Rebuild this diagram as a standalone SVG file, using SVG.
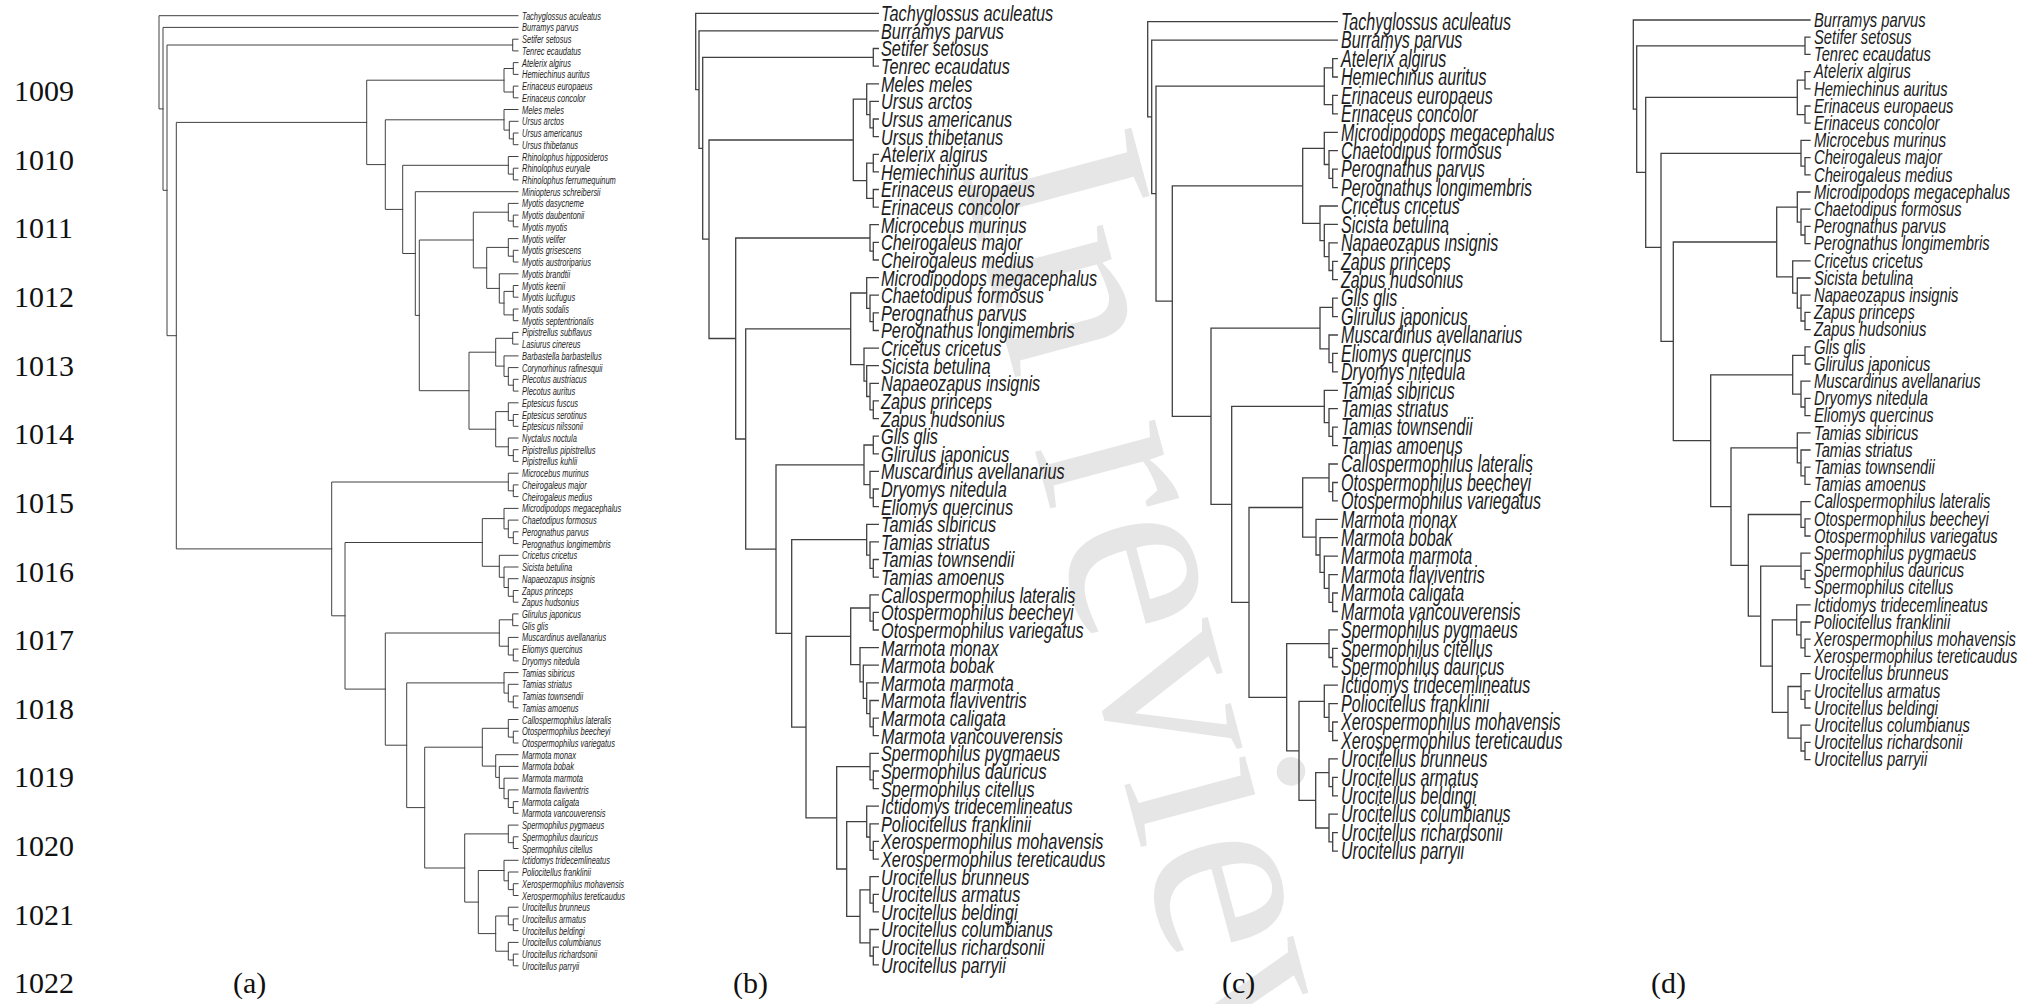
<svg xmlns="http://www.w3.org/2000/svg" width="2042" height="1004" viewBox="0 0 2042 1004">
<style>
.br{fill:none;stroke:#404040;stroke-width:1.3;stroke-linecap:square}
#ta .br{stroke-width:1}
.lab text{font-family:"Liberation Sans",Arial,sans-serif;font-style:italic;fill:#1c1c1c;dominant-baseline:central}
#la text{font-size:11px}
#lb text{font-size:22px}
#lc text{font-size:24px}
#ld text{font-size:20.5px}
.num{font-family:"Liberation Serif","Times New Roman",serif;font-size:30px;fill:#111}
.wm{font-family:"Liberation Serif","Times New Roman",serif;font-size:270px;fill:#e6e6e6}
</style>
<rect width="2042" height="1004" fill="#fff"/>
<text class="wm" transform="translate(958,164) rotate(75)">In review</text>
<g id="rownums" class="num">
<text x="14" y="101.2">1009</text><text x="14" y="169.8">1010</text><text x="14" y="238.4">1011</text><text x="14" y="307.1">1012</text><text x="14" y="375.7">1013</text><text x="14" y="444.3">1014</text><text x="14" y="512.9">1015</text><text x="14" y="581.5">1016</text><text x="14" y="650.2">1017</text><text x="14" y="718.8">1018</text><text x="14" y="787.4">1019</text><text x="14" y="856">1020</text><text x="14" y="924.6">1021</text><text x="14" y="993.3">1022</text>
</g>
<g id="panel-labels" class="num">
<text x="233" y="993.3">(a)</text><text x="733" y="993.3">(b)</text><text x="1222" y="993.3">(c)</text><text x="1651" y="993.3">(d)</text>
</g>
<g id="ta">
<g id="ta-connectors" class="br"><path d="M518,39.2H512.7V50.9H518M518,62.6H513.3V74.4H518M518,86.1H513.3V97.8H518M513.3,68.5H504V92H513.3M518,133H513.3V144.7H518M518,121.3H509.3V138.9H513.3M518,109.5H504V130.1H509.3M518,168.2H513.3V179.9H518M518,156.5H508.3V174.1H513.3M518,215.1H513.3V226.8H518M518,203.4H508.3V221H513.3M518,250.3H513.3V262H518M518,238.6H508.3V256.2H513.3M518,285.5H513.3V297.2H518M518,309H513.3V320.7H518M513.3,291.4H504V314.9H513.3M518,273.8H499.3V303.1H504M508.3,247.4H486.7V288.4H499.3M508.3,212.2H473.3V267.9H486.7M518,332.4H512.7V344.1H518M518,379.3H513.3V391.1H518M518,367.6H508.3V385.2H513.3M518,355.9H504V376.4H508.3M512.7,338.3H495.7V366.1H504M518,414.5H513.3V426.3H518M518,402.8H508.3V420.4H513.3M518,449.7H513.3V461.4H518M518,438H508.3V455.6H513.3M508.3,411.6H495.7V446.8H508.3M495.7,352.2H469V429.2H495.7M473.3,240H419.3V390.7H469M518,191.7H415.3V315.4H419.3M508.3,165.3H402.7V253.5H415.3M504,119.8H385.3V209.4H402.7M504,80.2H366.7V164.6H385.3M518,484.9H513.3V496.6H518M518,473.2H508.3V490.8H513.3M518,531.8H513.3V543.6H518M518,520.1H508.3V537.7H513.3M518,508.4H504V528.9H508.3M518,590.5H513.3V602.2H518M518,578.7H508.3V596.3H513.3M518,567H504V587.5H508.3M518,555.3H499.3V577.3H504M504,518.6H482.3V566.3H499.3M518,613.9H512.7V625.7H518M518,649.1H513.3V660.9H518M518,637.4H508.3V655H513.3M512.7,619.8H499.3V646.2H508.3M518,696H513.3V707.8H518M518,684.3H508.3V701.9H513.3M518,672.6H504V693.1H508.3M518,731.2H513.3V743H518M518,719.5H508.3V737.1H513.3M518,801.6H513.3V813.3H518M518,789.9H508.3V807.5H513.3M518,778.2H504V798.7H508.3M518,766.4H499.3V788.4H504M518,754.7H495.7V777.4H499.3M508.3,728.3H482.3V766.1H495.7M518,836.8H513.3V848.5H518M518,825.1H508.3V842.7H513.3M518,883.7H513.3V895.5H518M518,872H508.3V889.6H513.3M518,860.3H504V880.8H508.3M518,918.9H513.3V930.6H518M518,907.2H508.3V924.8H513.3M518,954.1H513.3V965.8H518M518,942.4H508.3V960H513.3M508.3,916H495.7V951.2H508.3M504,870.5H478.3V933.6H495.7M508.3,833.9H464.7V902.1H478.3M482.3,747.2H424.7V868H464.7M504,682.9H406.7V807.6H424.7M499.3,633H385.3V745.2H406.7M482.3,542.5H345V689.1H385.3M508.3,482H331.7V615.8H345M366.7,122.4H176.3V548.9H331.7M512.7,45H167V335.7H176.3M518,27.4H163V190.3H167M518,15.7H159V108.9H163"/></g>
<g id="la" class="lab" transform="translate(522,0) scale(0.68,1)">
<g id="a01"><text y="15.7">Tachyglossus aculeatus</text></g>
<g id="a02"><text y="27.4">Burramys parvus</text></g>
<g id="a03"><text y="39.2">Setifer setosus</text></g>
<g id="a04"><text y="50.9">Tenrec ecaudatus</text></g>
<g id="a05"><text y="62.6">Atelerix algirus</text></g>
<g id="a06"><text y="74.4">Hemiechinus auritus</text></g>
<g id="a07"><text y="86.1">Erinaceus europaeus</text></g>
<g id="a08"><text y="97.8">Erinaceus concolor</text></g>
<g id="a09"><text y="109.5">Meles meles</text></g>
<g id="a10"><text y="121.3">Ursus arctos</text></g>
<g id="a11"><text y="133">Ursus americanus</text></g>
<g id="a12"><text y="144.7">Ursus thibetanus</text></g>
<g id="a13"><text y="156.5">Rhinolophus hipposideros</text></g>
<g id="a14"><text y="168.2">Rhinolophus euryale</text></g>
<g id="a15"><text y="179.9">Rhinolophus ferrumequinum</text></g>
<g id="a16"><text y="191.7">Miniopterus schreibersii</text></g>
<g id="a17"><text y="203.4">Myotis dasycneme</text></g>
<g id="a18"><text y="215.1">Myotis daubentonii</text></g>
<g id="a19"><text y="226.8">Myotis myotis</text></g>
<g id="a20"><text y="238.6">Myotis velifer</text></g>
<g id="a21"><text y="250.3">Myotis grisescens</text></g>
<g id="a22"><text y="262">Myotis austroriparius</text></g>
<g id="a23"><text y="273.8">Myotis brandtii</text></g>
<g id="a24"><text y="285.5">Myotis keenii</text></g>
<g id="a25"><text y="297.2">Myotis lucifugus</text></g>
<g id="a26"><text y="309">Myotis sodalis</text></g>
<g id="a27"><text y="320.7">Myotis septentrionalis</text></g>
<g id="a28"><text y="332.4">Pipistrellus subflavus</text></g>
<g id="a29"><text y="344.1">Lasiurus cinereus</text></g>
<g id="a30"><text y="355.9">Barbastella barbastellus</text></g>
<g id="a31"><text y="367.6">Corynorhinus rafinesquii</text></g>
<g id="a32"><text y="379.3">Plecotus austriacus</text></g>
<g id="a33"><text y="391.1">Plecotus auritus</text></g>
<g id="a34"><text y="402.8">Eptesicus fuscus</text></g>
<g id="a35"><text y="414.5">Eptesicus serotinus</text></g>
<g id="a36"><text y="426.3">Eptesicus nilssonii</text></g>
<g id="a37"><text y="438">Nyctalus noctula</text></g>
<g id="a38"><text y="449.7">Pipistrellus pipistrellus</text></g>
<g id="a39"><text y="461.4">Pipistrellus kuhlii</text></g>
<g id="a40"><text y="473.2">Microcebus murinus</text></g>
<g id="a41"><text y="484.9">Cheirogaleus major</text></g>
<g id="a42"><text y="496.6">Cheirogaleus medius</text></g>
<g id="a43"><text y="508.4">Microdipodops megacephalus</text></g>
<g id="a44"><text y="520.1">Chaetodipus formosus</text></g>
<g id="a45"><text y="531.8">Perognathus parvus</text></g>
<g id="a46"><text y="543.6">Perognathus longimembris</text></g>
<g id="a47"><text y="555.3">Cricetus cricetus</text></g>
<g id="a48"><text y="567">Sicista betulina</text></g>
<g id="a49"><text y="578.7">Napaeozapus insignis</text></g>
<g id="a50"><text y="590.5">Zapus princeps</text></g>
<g id="a51"><text y="602.2">Zapus hudsonius</text></g>
<g id="a52"><text y="613.9">Glirulus japonicus</text></g>
<g id="a53"><text y="625.7">Glis glis</text></g>
<g id="a54"><text y="637.4">Muscardinus avellanarius</text></g>
<g id="a55"><text y="649.1">Eliomys quercinus</text></g>
<g id="a56"><text y="660.9">Dryomys nitedula</text></g>
<g id="a57"><text y="672.6">Tamias sibiricus</text></g>
<g id="a58"><text y="684.3">Tamias striatus</text></g>
<g id="a59"><text y="696">Tamias townsendii</text></g>
<g id="a60"><text y="707.8">Tamias amoenus</text></g>
<g id="a61"><text y="719.5">Callospermophilus lateralis</text></g>
<g id="a62"><text y="731.2">Otospermophilus beecheyi</text></g>
<g id="a63"><text y="743">Otospermophilus variegatus</text></g>
<g id="a64"><text y="754.7">Marmota monax</text></g>
<g id="a65"><text y="766.4">Marmota bobak</text></g>
<g id="a66"><text y="778.2">Marmota marmota</text></g>
<g id="a67"><text y="789.9">Marmota flaviventris</text></g>
<g id="a68"><text y="801.6">Marmota caligata</text></g>
<g id="a69"><text y="813.3">Marmota vancouverensis</text></g>
<g id="a70"><text y="825.1">Spermophilus pygmaeus</text></g>
<g id="a71"><text y="836.8">Spermophilus dauricus</text></g>
<g id="a72"><text y="848.5">Spermophilus citellus</text></g>
<g id="a73"><text y="860.3">Ictidomys tridecemlineatus</text></g>
<g id="a74"><text y="872">Poliocitellus franklinii</text></g>
<g id="a75"><text y="883.7">Xerospermophilus mohavensis</text></g>
<g id="a76"><text y="895.5">Xerospermophilus tereticaudus</text></g>
<g id="a77"><text y="907.2">Urocitellus brunneus</text></g>
<g id="a78"><text y="918.9">Urocitellus armatus</text></g>
<g id="a79"><text y="930.6">Urocitellus beldingi</text></g>
<g id="a80"><text y="942.4">Urocitellus columbianus</text></g>
<g id="a81"><text y="954.1">Urocitellus richardsonii</text></g>
<g id="a82"><text y="965.8">Urocitellus parryii</text></g>
</g>
</g>
<g id="tb">
<g id="tb-connectors" class="br"><path d="M878.3,48.5H873.3V66.2H878.3M878.3,119H873.3V136.6H878.3M878.3,101.4H870V127.8H873.3M878.3,83.8H866.7V114.6H870M878.3,154.3H873.3V171.9H878.3M878.3,189.5H873.3V207.1H878.3M873.3,163.1H866.7V198.3H873.3M866.7,99.2H853.3V180.7H866.7M878.3,242.4H873.3V260H878.3M878.3,224.7H870V251.2H873.3M878.3,312.8H873.3V330.5H878.3M878.3,295.2H870V321.7H873.3M878.3,277.6H866.7V308.4H870M878.3,400.9H873.3V418.6H878.3M878.3,383.3H870V409.8H873.3M878.3,365.7H866.7V396.5H870M878.3,348.1H864V381.1H866.7M866.7,293H850.7V364.6H864M878.3,436.2H873.3V453.8H878.3M878.3,489H873.3V506.7H878.3M878.3,471.4H870V497.9H873.3M873.3,445H864V484.6H870M878.3,559.5H873.3V577.1H878.3M878.3,541.9H870V568.3H873.3M878.3,524.3H866.7V555.1H870M878.3,612.4H873.3V630H878.3M878.3,594.8H870V621.2H873.3M878.3,718.1H873.3V735.7H878.3M878.3,700.5H870V726.9H873.3M878.3,682.9H866.7V713.7H870M878.3,665.2H863.3V698.3H866.7M878.3,647.6H860V681.8H863.3M870,608H850.7V664.7H860M878.3,771H873.3V788.6H878.3M878.3,753.3H870V779.8H873.3M878.3,841.4H873.3V859.1H878.3M878.3,823.8H870V850.3H873.3M878.3,806.2H866.7V837H870M878.3,894.3H873.3V911.9H878.3M878.3,876.7H870V903.1H873.3M878.3,947.2H873.3V964.8H878.3M878.3,929.5H870V956H873.3M870,889.9H860V942.8H870M866.7,821.6H846.7V916.3H860M870,766.6H836.7V869H846.7M850.7,636.3H806V817.8H836.7M866.7,539.7H791.7V727.1H806M864,464.8H776V633.4H791.7M850.7,328.8H745.7V549.1H776M870,238H735.7V439H745.7M853.3,140H709V338.5H735.7M873.3,57.4H702.7V239.2H709M878.3,30.9H699V148.3H702.7M878.3,13.3H695.7V89.6H699"/></g>
<g id="lb" class="lab" transform="translate(881,0) scale(0.74,1)">
<g id="b01"><text y="13.3">Tachyglossus aculeatus</text></g>
<g id="b02"><text y="30.9">Burramys parvus</text></g>
<g id="b03"><text y="48.5">Setifer setosus</text></g>
<g id="b04"><text y="66.2">Tenrec ecaudatus</text></g>
<g id="b05"><text y="83.8">Meles meles</text></g>
<g id="b06"><text y="101.4">Ursus arctos</text></g>
<g id="b07"><text y="119">Ursus americanus</text></g>
<g id="b08"><text y="136.6">Ursus thibetanus</text></g>
<g id="b09"><text y="154.3">Atelerix algirus</text></g>
<g id="b10"><text y="171.9">Hemiechinus auritus</text></g>
<g id="b11"><text y="189.5">Erinaceus europaeus</text></g>
<g id="b12"><text y="207.1">Erinaceus concolor</text></g>
<g id="b13"><text y="224.7">Microcebus murinus</text></g>
<g id="b14"><text y="242.4">Cheirogaleus major</text></g>
<g id="b15"><text y="260">Cheirogaleus medius</text></g>
<g id="b16"><text y="277.6">Microdipodops megacephalus</text></g>
<g id="b17"><text y="295.2">Chaetodipus formosus</text></g>
<g id="b18"><text y="312.8">Perognathus parvus</text></g>
<g id="b19"><text y="330.5">Perognathus longimembris</text></g>
<g id="b20"><text y="348.1">Cricetus cricetus</text></g>
<g id="b21"><text y="365.7">Sicista betulina</text></g>
<g id="b22"><text y="383.3">Napaeozapus insignis</text></g>
<g id="b23"><text y="400.9">Zapus princeps</text></g>
<g id="b24"><text y="418.6">Zapus hudsonius</text></g>
<g id="b25"><text y="436.2">Glis glis</text></g>
<g id="b26"><text y="453.8">Glirulus japonicus</text></g>
<g id="b27"><text y="471.4">Muscardinus avellanarius</text></g>
<g id="b28"><text y="489">Dryomys nitedula</text></g>
<g id="b29"><text y="506.7">Eliomys quercinus</text></g>
<g id="b30"><text y="524.3">Tamias sibiricus</text></g>
<g id="b31"><text y="541.9">Tamias striatus</text></g>
<g id="b32"><text y="559.5">Tamias townsendii</text></g>
<g id="b33"><text y="577.1">Tamias amoenus</text></g>
<g id="b34"><text y="594.8">Callospermophilus lateralis</text></g>
<g id="b35"><text y="612.4">Otospermophilus beecheyi</text></g>
<g id="b36"><text y="630">Otospermophilus variegatus</text></g>
<g id="b37"><text y="647.6">Marmota monax</text></g>
<g id="b38"><text y="665.2">Marmota bobak</text></g>
<g id="b39"><text y="682.9">Marmota marmota</text></g>
<g id="b40"><text y="700.5">Marmota flaviventris</text></g>
<g id="b41"><text y="718.1">Marmota caligata</text></g>
<g id="b42"><text y="735.7">Marmota vancouverensis</text></g>
<g id="b43"><text y="753.3">Spermophilus pygmaeus</text></g>
<g id="b44"><text y="771">Spermophilus dauricus</text></g>
<g id="b45"><text y="788.6">Spermophilus citellus</text></g>
<g id="b46"><text y="806.2">Ictidomys tridecemlineatus</text></g>
<g id="b47"><text y="823.8">Poliocitellus franklinii</text></g>
<g id="b48"><text y="841.4">Xerospermophilus mohavensis</text></g>
<g id="b49"><text y="859.1">Xerospermophilus tereticaudus</text></g>
<g id="b50"><text y="876.7">Urocitellus brunneus</text></g>
<g id="b51"><text y="894.3">Urocitellus armatus</text></g>
<g id="b52"><text y="911.9">Urocitellus beldingi</text></g>
<g id="b53"><text y="929.5">Urocitellus columbianus</text></g>
<g id="b54"><text y="947.2">Urocitellus richardsonii</text></g>
<g id="b55"><text y="964.8">Urocitellus parryii</text></g>
</g>
</g>
<g id="tc">
<g id="tc-connectors" class="br"><path d="M1337.3,58.6H1332.7V77H1337.3M1337.3,95.4H1332.7V113.9H1337.3M1332.7,67.8H1324.3V104.6H1332.7M1337.3,169.1H1332.7V187.6H1337.3M1337.3,150.7H1329V178.4H1332.7M1337.3,132.3H1324.3V164.5H1329M1337.3,261.3H1332.7V279.7H1337.3M1337.3,242.9H1329V270.5H1332.7M1337.3,224.4H1324.3V256.7H1329M1337.3,206H1320V240.6H1324.3M1324.3,148.4H1302.7V223.3H1320M1337.3,298.2H1332.7V316.6H1337.3M1337.3,353.4H1332.7V371.9H1337.3M1337.3,335H1329V362.7H1332.7M1332.7,307.4H1320V348.8H1329M1337.3,427.2H1332.7V445.6H1337.3M1337.3,408.7H1329V436.4H1332.7M1337.3,390.3H1324.3V422.6H1329M1337.3,482.5H1332.7V500.9H1337.3M1337.3,464H1329V491.7H1332.7M1337.3,593H1332.7V611.5H1337.3M1337.3,574.6H1329V602.3H1332.7M1337.3,556.2H1324.3V588.4H1329M1337.3,537.7H1320V572.3H1324.3M1337.3,519.3H1316V555H1320M1329,477.8H1302.7V537.2H1316M1337.3,648.3H1332.7V666.8H1337.3M1337.3,629.9H1329V657.5H1332.7M1337.3,722H1332.7V740.5H1337.3M1337.3,703.6H1329V731.3H1332.7M1337.3,685.2H1324.3V717.4H1329M1337.3,777.3H1332.7V795.8H1337.3M1337.3,758.9H1329V786.6H1332.7M1337.3,832.6H1332.7V851.1H1337.3M1337.3,814.2H1329V841.9H1332.7M1329,772.7H1315.7V828H1329M1324.3,701.3H1299V800.4H1315.7M1329,643.7H1286.7V750.8H1299M1302.7,507.5H1249V697.3H1286.7M1324.3,406.4H1231.7V602.4H1249M1320,328.1H1211V504.4H1231.7M1302.7,185.9H1172.3V416.3H1211M1324.3,86.2H1156V301.1H1172.3M1337.3,40.1H1151.7V193.6H1156M1337.3,21.7H1147.7V116.9H1151.7"/></g>
<g id="lc" class="lab" transform="translate(1341,0) scale(0.67,1)">
<g id="c01"><text y="21.7">Tachyglossus aculeatus</text></g>
<g id="c02"><text y="40.1">Burramys parvus</text></g>
<g id="c03"><text y="58.6">Atelerix algirus</text></g>
<g id="c04"><text y="77">Hemiechinus auritus</text></g>
<g id="c05"><text y="95.4">Erinaceus europaeus</text></g>
<g id="c06"><text y="113.9">Erinaceus concolor</text></g>
<g id="c07"><text y="132.3">Microdipodops megacephalus</text></g>
<g id="c08"><text y="150.7">Chaetodipus formosus</text></g>
<g id="c09"><text y="169.1">Perognathus parvus</text></g>
<g id="c10"><text y="187.6">Perognathus longimembris</text></g>
<g id="c11"><text y="206">Cricetus cricetus</text></g>
<g id="c12"><text y="224.4">Sicista betulina</text></g>
<g id="c13"><text y="242.9">Napaeozapus insignis</text></g>
<g id="c14"><text y="261.3">Zapus princeps</text></g>
<g id="c15"><text y="279.7">Zapus hudsonius</text></g>
<g id="c16"><text y="298.2">Glis glis</text></g>
<g id="c17"><text y="316.6">Glirulus japonicus</text></g>
<g id="c18"><text y="335">Muscardinus avellanarius</text></g>
<g id="c19"><text y="353.4">Eliomys quercinus</text></g>
<g id="c20"><text y="371.9">Dryomys nitedula</text></g>
<g id="c21"><text y="390.3">Tamias sibiricus</text></g>
<g id="c22"><text y="408.7">Tamias striatus</text></g>
<g id="c23"><text y="427.2">Tamias townsendii</text></g>
<g id="c24"><text y="445.6">Tamias amoenus</text></g>
<g id="c25"><text y="464">Callospermophilus lateralis</text></g>
<g id="c26"><text y="482.5">Otospermophilus beecheyi</text></g>
<g id="c27"><text y="500.9">Otospermophilus variegatus</text></g>
<g id="c28"><text y="519.3">Marmota monax</text></g>
<g id="c29"><text y="537.7">Marmota bobak</text></g>
<g id="c30"><text y="556.2">Marmota marmota</text></g>
<g id="c31"><text y="574.6">Marmota flaviventris</text></g>
<g id="c32"><text y="593">Marmota caligata</text></g>
<g id="c33"><text y="611.5">Marmota vancouverensis</text></g>
<g id="c34"><text y="629.9">Spermophilus pygmaeus</text></g>
<g id="c35"><text y="648.3">Spermophilus citellus</text></g>
<g id="c36"><text y="666.8">Spermophilus dauricus</text></g>
<g id="c37"><text y="685.2">Ictidomys tridecemlineatus</text></g>
<g id="c38"><text y="703.6">Poliocitellus franklinii</text></g>
<g id="c39"><text y="722">Xerospermophilus mohavensis</text></g>
<g id="c40"><text y="740.5">Xerospermophilus tereticaudus</text></g>
<g id="c41"><text y="758.9">Urocitellus brunneus</text></g>
<g id="c42"><text y="777.3">Urocitellus armatus</text></g>
<g id="c43"><text y="795.8">Urocitellus beldingi</text></g>
<g id="c44"><text y="814.2">Urocitellus columbianus</text></g>
<g id="c45"><text y="832.6">Urocitellus richardsonii</text></g>
<g id="c46"><text y="851.1">Urocitellus parryii</text></g>
</g>
</g>
<g id="td">
<g id="td-connectors" class="br"><path d="M1810,37.2H1805V54.4H1810M1810,71.6H1805V88.8H1810M1810,106H1805V123.2H1810M1805,80.2H1797.3V114.6H1805M1810,157.6H1805V174.8H1810M1810,140.4H1801V166.2H1805M1810,226.4H1805V243.6H1810M1810,209.2H1801V235H1805M1810,192H1797.3V222.1H1801M1810,312.4H1805V329.6H1810M1810,295.2H1801V321H1805M1810,278H1797.3V308.1H1801M1810,260.8H1792.7V293.1H1797.3M1797.3,207.1H1776.7V276.9H1792.7M1810,346.8H1805V364H1810M1810,398.4H1805V415.6H1810M1810,381.2H1801V407H1805M1805,355.4H1792.7V394.1H1801M1810,467.2H1805V484.4H1810M1810,450H1801V475.8H1805M1810,432.8H1797.3V462.9H1801M1810,518.8H1805V536H1810M1810,501.6H1801V527.4H1805M1810,570.4H1805V587.6H1810M1810,553.2H1801V579H1805M1810,639.2H1805V656.4H1810M1810,622H1801V647.8H1805M1810,604.8H1796.7V634.9H1801M1810,690.8H1805V708H1810M1810,673.6H1801V699.4H1805M1810,742.4H1805V759.6H1810M1810,725.2H1801V751H1805M1801,686.5H1788V738.1H1801M1796.7,619.9H1772.3V712.3H1788M1801,566.1H1760.7V666.1H1772.3M1801,514.5H1748.3V616.1H1760.7M1797.3,447.9H1731V565.3H1748.3M1792.7,374.8H1710.7V506.6H1731M1776.7,242H1673.3V440.7H1710.7M1801,153.3H1661V341.3H1673.3M1797.3,97.4H1645.7V247.3H1661M1805,45.8H1636.7V172.4H1645.7M1810,20H1633.3V109.1H1636.7"/></g>
<g id="ld" class="lab" transform="translate(1814,0) scale(0.72,1)">
<g id="d01"><text y="20">Burramys parvus</text></g>
<g id="d02"><text y="37.2">Setifer setosus</text></g>
<g id="d03"><text y="54.4">Tenrec ecaudatus</text></g>
<g id="d04"><text y="71.6">Atelerix algirus</text></g>
<g id="d05"><text y="88.8">Hemiechinus auritus</text></g>
<g id="d06"><text y="106">Erinaceus europaeus</text></g>
<g id="d07"><text y="123.2">Erinaceus concolor</text></g>
<g id="d08"><text y="140.4">Microcebus murinus</text></g>
<g id="d09"><text y="157.6">Cheirogaleus major</text></g>
<g id="d10"><text y="174.8">Cheirogaleus medius</text></g>
<g id="d11"><text y="192">Microdipodops megacephalus</text></g>
<g id="d12"><text y="209.2">Chaetodipus formosus</text></g>
<g id="d13"><text y="226.4">Perognathus parvus</text></g>
<g id="d14"><text y="243.6">Perognathus longimembris</text></g>
<g id="d15"><text y="260.8">Cricetus cricetus</text></g>
<g id="d16"><text y="278">Sicista betulina</text></g>
<g id="d17"><text y="295.2">Napaeozapus insignis</text></g>
<g id="d18"><text y="312.4">Zapus princeps</text></g>
<g id="d19"><text y="329.6">Zapus hudsonius</text></g>
<g id="d20"><text y="346.8">Glis glis</text></g>
<g id="d21"><text y="364">Glirulus japonicus</text></g>
<g id="d22"><text y="381.2">Muscardinus avellanarius</text></g>
<g id="d23"><text y="398.4">Dryomys nitedula</text></g>
<g id="d24"><text y="415.6">Eliomys quercinus</text></g>
<g id="d25"><text y="432.8">Tamias sibiricus</text></g>
<g id="d26"><text y="450">Tamias striatus</text></g>
<g id="d27"><text y="467.2">Tamias townsendii</text></g>
<g id="d28"><text y="484.4">Tamias amoenus</text></g>
<g id="d29"><text y="501.6">Callospermophilus lateralis</text></g>
<g id="d30"><text y="518.8">Otospermophilus beecheyi</text></g>
<g id="d31"><text y="536">Otospermophilus variegatus</text></g>
<g id="d32"><text y="553.2">Spermophilus pygmaeus</text></g>
<g id="d33"><text y="570.4">Spermophilus dauricus</text></g>
<g id="d34"><text y="587.6">Spermophilus citellus</text></g>
<g id="d35"><text y="604.8">Ictidomys tridecemlineatus</text></g>
<g id="d36"><text y="622">Poliocitellus franklinii</text></g>
<g id="d37"><text y="639.2">Xerospermophilus mohavensis</text></g>
<g id="d38"><text y="656.4">Xerospermophilus tereticaudus</text></g>
<g id="d39"><text y="673.6">Urocitellus brunneus</text></g>
<g id="d40"><text y="690.8">Urocitellus armatus</text></g>
<g id="d41"><text y="708">Urocitellus beldingi</text></g>
<g id="d42"><text y="725.2">Urocitellus columbianus</text></g>
<g id="d43"><text y="742.4">Urocitellus richardsonii</text></g>
<g id="d44"><text y="759.6">Urocitellus parryii</text></g>
</g>
</g>
</svg>
